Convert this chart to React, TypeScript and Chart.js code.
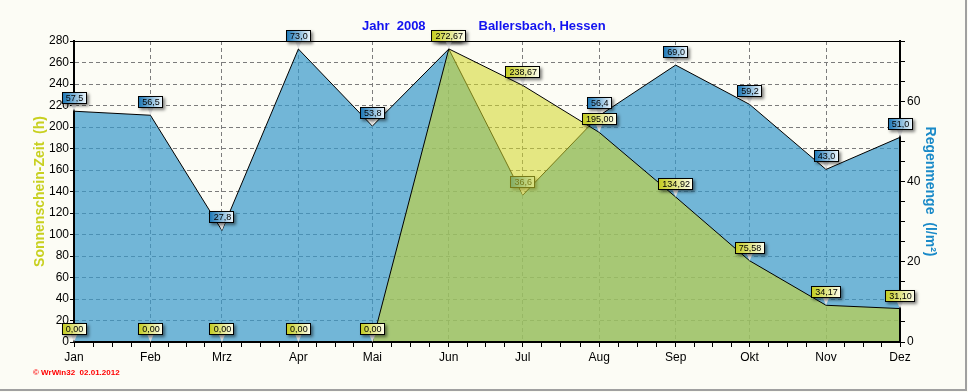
import { useEffect, useRef } from 'react';
import { Chart, registerables } from 'chart.js';

Chart.register(...registerables);

// ---- data ----
const monthLabels = ['Jan', 'Feb', 'Mrz', 'Apr', 'Mai', 'Jun', 'Jul', 'Aug', 'Sep', 'Okt', 'Nov', 'Dez'];
// day of year (2008) of the first of each month
const monthStartDay = [0, 31, 60, 91, 121, 152, 182, 213, 244, 274, 305, 335];
const sunshineHours = [0, 0, 0, 0, 0, 272.67, 238.67, 195.0, 134.92, 75.58, 34.17, 31.1];
const rainfall = [57.5, 56.5, 27.8, 73.0, 53.8, 73.0, 36.6, 56.4, 69.0, 59.2, 43.0, 51.0];
const leftAxis = { min: 0, max: 280, step: 10, labelEvery: 20 };
const rightAxis = { min: 0, max: 75, step: 5, labelEvery: 20 };
const titleLeftText = 'Jahr  2008';
const titleRightText = 'Ballersbach, Hessen';
const leftAxisTitle = 'Sonnenschein-Zeit  (h)';
const rightAxisTitle = 'Regenmenge  (l/m²)';
const copyrightText = '© WrWin32  02.01.2012';

const FONT = '"Liberation Sans", Arial, sans-serif';

// month ticks plus quarter-month minor ticks
const xTickValues: number[] = [];
for (let i = 0; i < monthStartDay.length; i++) {
  xTickValues.push(monthStartDay[i]);
  if (i < monthStartDay.length - 1) {
    const a = monthStartDay[i];
    const b = monthStartDay[i + 1];
    for (let k = 1; k <= 3; k++) xTickValues.push(a + ((b - a) * k) / 4);
  }
}

function fmt(v: number, d: number) {
  return v.toFixed(d).replace('.', ',');
}

function drawValueLabel(ctx: CanvasRenderingContext2D, x: number, y: number, text: string, c1: string, c2: string) {
  ctx.save();
  ctx.font = '9px ' + FONT;
  const w = Math.round(ctx.measureText(text).width + 7);
  const h = 12;
  const bottom = Math.round(y - 7);
  const top = bottom - h;
  const left = Math.round(x - w / 2);
  // pointer
  ctx.beginPath();
  ctx.moveTo(x - 3, bottom);
  ctx.lineTo(x + 3, bottom);
  ctx.lineTo(x, y);
  ctx.closePath();
  ctx.fillStyle = '#e2e2e2';
  ctx.fill();
  // box with shadow
  const g = ctx.createLinearGradient(left, 0, left + w, 0);
  g.addColorStop(0, c1);
  g.addColorStop(1, c2);
  ctx.save();
  ctx.shadowColor = 'rgba(0,0,0,0.5)';
  ctx.shadowBlur = 3;
  ctx.shadowOffsetX = 2;
  ctx.shadowOffsetY = 2;
  ctx.fillStyle = g;
  ctx.fillRect(left, top, w, h);
  ctx.restore();
  ctx.strokeStyle = '#000';
  ctx.lineWidth = 1;
  ctx.strokeRect(left + 0.5, top + 0.5, w - 1, h - 1);
  ctx.fillStyle = '#000';
  ctx.textAlign = 'center';
  ctx.textBaseline = 'middle';
  ctx.fillText(text, x + 0.5, top + h / 2 + 0.5);
  ctx.restore();
}

function strokeLine(ctx: CanvasRenderingContext2D, x1: number, y1: number, x2: number, y2: number, w: number) {
  ctx.save();
  ctx.beginPath();
  ctx.lineWidth = w;
  ctx.strokeStyle = '#000';
  ctx.moveTo(x1, y1);
  ctx.lineTo(x2, y2);
  ctx.stroke();
  ctx.restore();
}

const decorPlugin = {
  id: 'decor',
  beforeDraw(chart: any) {
    const ctx = chart.ctx;
    ctx.save();
    ctx.fillStyle = '#fcfcf5';
    ctx.fillRect(0, 0, chart.width, chart.height);
    ctx.fillStyle = '#a0a0a0';
    ctx.fillRect(965, 0, 2, 391);
    ctx.fillRect(0, 389, 967, 2);
    ctx.restore();
  },
  beforeDatasetsDraw(chart: any) {
    const { left, right, top } = chart.chartArea;
    strokeLine(chart.ctx, left, top + 0.5, right, top + 0.5, 1);
  },
  afterDatasetDraw(chart: any, args: any) {
    if (args.index !== 1) return;
    const ctx = chart.ctx;
    const { left, right, top, bottom } = chart.chartArea;
    strokeLine(ctx, left, top, left, bottom + 1, 2);
    strokeLine(ctx, right, top, right, bottom + 1, 2);
    strokeLine(ctx, left - 1, bottom, right + 1, bottom, 2);
    const xs = chart.scales.x;
    const ys = chart.scales.y2;
    rainfall.forEach((v, i) => {
      drawValueLabel(ctx, xs.getPixelForValue(monthStartDay[i]), ys.getPixelForValue(v), fmt(v, 1), '#1673b3', '#f2faff');
    });
  },
  afterDatasetsDraw(chart: any) {
    const ctx = chart.ctx;
    const { left, right, bottom } = chart.chartArea;
    strokeLine(ctx, left - 1, bottom, right + 1, bottom, 2);
    strokeLine(ctx, right, bottom - 60, right, bottom + 1, 2);
    const xs = chart.scales.x;
    const ys = chart.scales.y;
    sunshineHours.forEach((v, i) => {
      drawValueLabel(ctx, xs.getPixelForValue(monthStartDay[i]), ys.getPixelForValue(v), fmt(v, 2), '#c2ca1a', '#fffff0');
    });
  },
  afterDraw(chart: any) {
    const ctx = chart.ctx;
    ctx.save();
    ctx.font = 'bold 13px ' + FONT;
    ctx.fillStyle = '#1212f0';
    ctx.textAlign = 'left';
    ctx.textBaseline = 'alphabetic';
    ctx.fillText(titleLeftText, 362, 30);
    ctx.fillText(titleRightText, 478.5, 30);
    ctx.font = 'bold 8px ' + FONT;
    ctx.fillStyle = '#ff0000';
    ctx.fillText(copyrightText, 33, 375);
    ctx.restore();
  },
};

export default function App() {
  const ref = useRef<HTMLCanvasElement | null>(null);

  useEffect(() => {
    if (!ref.current) return;
    const tickFont = { family: FONT, size: 12 };
    const chart = new Chart(ref.current, {
      type: 'line',
      data: {
        datasets: [
          {
            label: 'Sonnenschein',
            data: monthStartDay.map((d, i) => ({ x: d, y: sunshineHours[i] })),
            yAxisID: 'y',
            xAxisID: 'x',
            fill: 'origin',
            backgroundColor: 'rgba(209,214,40,0.564)',
            borderColor: '#000',
            borderWidth: 1,
            pointRadius: 0,
            tension: 0,
            order: 0,
          },
          {
            label: 'Regen',
            data: monthStartDay.map((d, i) => ({ x: d, y: rainfall[i] })),
            yAxisID: 'y2',
            xAxisID: 'x',
            fill: 'origin',
            backgroundColor: 'rgba(55,152,202,0.7)',
            borderColor: '#000',
            borderWidth: 1,
            pointRadius: 0,
            tension: 0,
            order: 1,
          },
        ],
      },
      options: {
        responsive: false,
        animation: false,
        layout: { padding: { top: 41, left: 0, right: 0, bottom: 0 } },
        plugins: {
          legend: { display: false },
          title: { display: false },
          tooltip: { enabled: false },
        },
        scales: {
          x: {
            type: 'linear',
            min: monthStartDay[0],
            max: monthStartDay[monthStartDay.length - 1],
            afterBuildTicks: (axis: any) => {
              axis.ticks = xTickValues.map((v) => ({ value: v }));
            },
            afterFit: (s: any) => {
              s.height = 50;
            },
            ticks: {
              autoSkip: false,
              maxRotation: 0,
              minRotation: 0,
              padding: 3,
              color: '#000',
              font: tickFont,
              callback: (v: any) => {
                const i = monthStartDay.indexOf(Number(v));
                return i >= 0 ? monthLabels[i] : '';
              },
            },
            grid: {
              color: (c: any) => {
                const v = c.tick ? c.tick.value : undefined;
                if (v === undefined) return 'transparent';
                const i = monthStartDay.indexOf(v);
                return i > 0 && i < monthStartDay.length - 1 ? '#7c7c7c' : 'transparent';
              },
              tickColor: '#000',
              tickLength: 5,
              lineWidth: 1,
            },
            border: { color: '#000', width: 2, dash: [4, 3] },
          },
          y: {
            type: 'linear',
            position: 'left',
            min: leftAxis.min,
            max: leftAxis.max,
            afterFit: (s: any) => {
              s.width = 74;
            },
            ticks: {
              stepSize: leftAxis.step,
              padding: 1,
              color: '#000',
              font: tickFont,
              callback: (v: any) => (Number(v) % leftAxis.labelEvery === 0 ? String(v) : ''),
            },
            grid: {
              color: (c: any) => {
                const v = c.tick ? c.tick.value : undefined;
                if (v === undefined) return 'transparent';
                return v % leftAxis.labelEvery === 0 && v > leftAxis.min && v < leftAxis.max ? '#7c7c7c' : 'transparent';
              },
              tickColor: '#000',
              tickLength: 4,
              lineWidth: 1,
            },
            border: { color: '#000', width: 2, dash: [4, 3] },
            title: {
              display: true,
              text: leftAxisTitle,
              color: '#c8d020',
              font: { family: FONT, size: 14, weight: 'bold' },
              padding: { top: 32, bottom: 0 },
            },
          },
          y2: {
            type: 'linear',
            position: 'right',
            min: rightAxis.min,
            max: rightAxis.max,
            afterFit: (s: any) => {
              s.width = 68;
            },
            ticks: {
              stepSize: rightAxis.step,
              padding: 2,
              color: '#000',
              font: tickFont,
              callback: (v: any) => (Number(v) % rightAxis.labelEvery === 0 ? String(v) : ''),
            },
            grid: {
              drawOnChartArea: false,
              color: '#000',
              tickColor: '#000',
              tickLength: 5,
            },
            border: { color: '#000', width: 2 },
            title: {
              display: true,
              text: rightAxisTitle,
              color: '#1a8ac8',
              font: { family: FONT, size: 14, weight: 'bold' },
              padding: { top: 30, bottom: 0 },
            },
          },
        },
      },
      plugins: [decorPlugin],
    } as any);
    return () => chart.destroy();
  }, []);

  return (
    <div style={{ position: 'fixed', left: 0, top: 0, width: 968, height: 392 }}>
      <canvas ref={ref} width={968} height={392} style={{ display: 'block', width: 968, height: 392 }} />
    </div>
  );
}
